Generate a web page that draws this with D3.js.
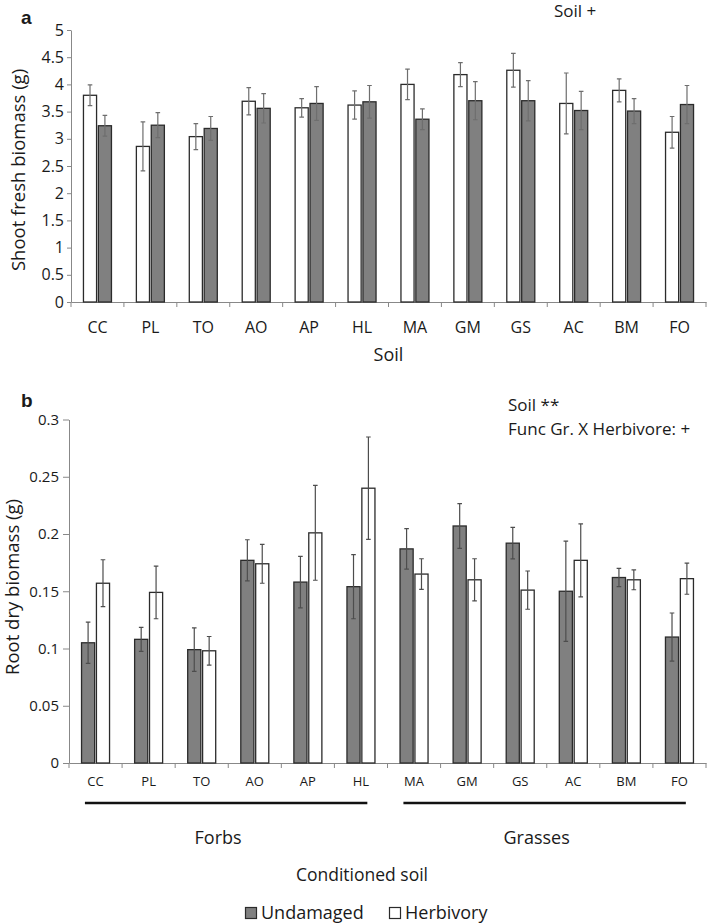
<!DOCTYPE html>
<html>
<head>
<meta charset="utf-8">
<script src="https://cdn.jsdelivr.net/npm/d3@7"></script>
<style>
  body { margin: 0; background: #fff; }
  text { font-family: "Open Sans", "Noto Sans", sans-serif; fill: #1a1a1a; }
</style>
</head>
<body>
<div id="chart"></div>
<script>
// Categories (conditioned soils)
const soils = ["CC", "PL", "TO", "AO", "AP", "HL", "MA", "GM", "GS", "AC", "BM", "FO"];

// Panel a: shoot fresh biomass (g)
const shootHerbivory = [3.80, 2.86, 3.04, 3.69, 3.57, 3.62, 4.00, 4.18, 4.26, 3.65, 3.89, 3.12];
const shootHerbivoryErr = [0.19, 0.45, 0.24, 0.25, 0.17, 0.26, 0.28, 0.22, 0.31, 0.56, 0.21, 0.29];
const shootUndamaged = [3.24, 3.25, 3.19, 3.56, 3.65, 3.68, 3.36, 3.70, 3.70, 3.52, 3.51, 3.63];
const shootUndamagedErr = [0.19, 0.23, 0.22, 0.27, 0.31, 0.30, 0.19, 0.35, 0.37, 0.35, 0.23, 0.35];
const shootTicks = [0, 0.5, 1, 1.5, 2, 2.5, 3, 3.5, 4, 4.5, 5];

// Panel b: root dry biomass (g)
const rootUndamaged = [0.105, 0.108, 0.099, 0.177, 0.158, 0.154, 0.187, 0.207, 0.192, 0.150, 0.162, 0.110];
const rootUndamagedErr = [0.018, 0.0105, 0.019, 0.018, 0.0225, 0.028, 0.0177, 0.0195, 0.0137, 0.0437, 0.008, 0.021];
const rootHerbivory = [0.157, 0.149, 0.098, 0.174, 0.201, 0.240, 0.165, 0.160, 0.151, 0.177, 0.160, 0.161];
const rootHerbivoryErr = [0.0205, 0.023, 0.0125, 0.017, 0.0414, 0.0447, 0.0134, 0.0184, 0.0167, 0.0319, 0.0087, 0.0136];
const rootTicks = [0, 0.05, 0.1, 0.15, 0.2, 0.25, 0.3];

// Functional groups
const groups = [
  {name: "Forbs", members: ["CC", "PL", "TO", "AO", "AP", "HL"]},
  {name: "Grasses", members: ["MA", "GM", "GS", "AC", "BM", "FO"]}
];

const fillColor = {Undamaged: "#808080", Herbivory: "#ffffff"};

const svg = d3.select("#chart")
  .append("svg")
    .attr("width", 708)
    .attr("height", 924);

function panel(opts) {
  const x = d3.scaleBand()
    .domain(soils)
    .range([opts.left, opts.right])
    .padding(0);
  const bw = x.bandwidth();

  const x1 = d3.scaleBand()
    .domain(opts.series.map(s => s.name))
    .range([bw / 2 - 14, bw / 2 + 14])
    .paddingInner(0.12);

  const y = d3.scaleLinear()
    .domain([0, opts.max])
    .range([opts.bottom, opts.top]);

  const g = svg.append("g");

  // Y axis
  const yAxis = g.append("g")
    .attr("transform", `translate(${opts.left},0)`)
    .call(d3.axisLeft(y).tickValues(opts.ticks).tickSize(opts.tickLen)
      .tickSizeOuter(0).tickPadding(opts.tickPad).tickFormat(d3.format("~g")));
  yAxis.selectAll("path, line").attr("stroke", "#888");
  yAxis.selectAll("text")
    .style("font-size", opts.tickFont + "px")
    .style("font-family", "'Open Sans', sans-serif")
    .attr("fill", "#1a1a1a");

  // X axis (labels only, ticks at category boundaries)
  const xAxis = g.append("g")
    .attr("transform", `translate(0,${opts.bottom})`)
    .call(d3.axisBottom(x).tickSize(0).tickPadding(opts.catPad));
  xAxis.select(".domain").attr("stroke", "#888");
  xAxis.selectAll("text")
    .style("font-size", opts.catFont + "px")
    .style("font-family", "'Open Sans', sans-serif")
    .attr("fill", "#1a1a1a");

  const bounds = soils.map(s => x(s)).concat([x.range()[1]]);
  g.selectAll(".btick")
    .data(bounds)
    .enter()
    .append("line")
      .attr("x1", d => d).attr("x2", d => d)
      .attr("y1", opts.bottom).attr("y2", opts.bottom + 5)
      .attr("stroke", "#888");

  // Bars and error bars
  opts.series.forEach(s => {
    const rows = soils.map((c, i) => ({cat: c, v: s.values[i], e: s.err[i]}));
    const sg = g.append("g");
    sg.selectAll("rect")
      .data(rows)
      .enter()
      .append("rect")
        .attr("x", d => x(d.cat) + x1(s.name))
        .attr("y", d => y(d.v))
        .attr("width", x1.bandwidth())
        .attr("height", d => opts.bottom - y(d.v))
        .attr("fill", fillColor[s.name])
        .attr("stroke", "#2b2b2b")
        .attr("stroke-width", 1.3);

    const cx = d => x(d.cat) + x1(s.name) + x1.bandwidth() / 2;
    sg.selectAll(".err")
      .data(rows)
      .enter()
      .append("path")
        .attr("fill", "none")
        .attr("stroke", opts.errColor)
        .attr("stroke-width", 1.2)
        .attr("d", d => {
          const c = cx(d), hi = y(d.v + d.e), lo = y(d.v - d.e), w = 2.3;
          return `M${c},${hi}V${lo}M${c - w},${hi}H${c + w}M${c - w},${lo}H${c + w}`;
        });
  });

  return {x, y, bw};
}

// ---- Panel a ----
const pa = panel({
  left: 71, right: 706, top: 30, bottom: 302, max: 5,
  ticks: shootTicks, tickLen: 4, tickPad: 3, tickFont: 16,
  catFont: 16, catPad: 20, errColor: "#6e6e6e",
  series: [
    {name: "Herbivory", values: shootHerbivory, err: shootHerbivoryErr},
    {name: "Undamaged", values: shootUndamaged, err: shootUndamagedErr}
  ]
});

svg.append("text")
  .attr("x", 21).attr("y", 24)
  .style("font-family", "'Liberation Sans', Arial, sans-serif")
  .style("font-weight", "bold")
  .style("font-size", "19px")
  .text("a");

svg.append("text")
  .attr("x", 554).attr("y", 17)
  .style("font-size", "17px")
  .text("Soil +");

svg.append("text")
  .attr("text-anchor", "middle")
  .attr("x", (71 + 706) / 2).attr("y", 361)
  .style("font-size", "18px")
  .text("Soil");

svg.append("text")
  .attr("text-anchor", "middle")
  .attr("transform", "translate(25,170) rotate(-90)")
  .style("font-size", "18.5px")
  .text("Shoot fresh biomass (g)");

// ---- Panel b ----
const pb = panel({
  left: 69, right: 706, top: 419.5, bottom: 763, max: 0.3,
  ticks: rootTicks, tickLen: 6, tickPad: 4, tickFont: 15,
  catFont: 13, catPad: 14, errColor: "#4d4d4d",
  series: [
    {name: "Undamaged", values: rootUndamaged, err: rootUndamagedErr},
    {name: "Herbivory", values: rootHerbivory, err: rootHerbivoryErr}
  ]
});

svg.append("text")
  .attr("x", 21).attr("y", 407)
  .style("font-family", "'Liberation Sans', Arial, sans-serif")
  .style("font-weight", "bold")
  .style("font-size", "19px")
  .text("b");

svg.append("text")
  .attr("x", 508).attr("y", 411)
  .style("font-size", "17px")
  .text("Soil **");

svg.append("text")
  .attr("x", 508).attr("y", 435)
  .style("font-size", "17px")
  .text("Func Gr. X Herbivore: +");

svg.append("text")
  .attr("text-anchor", "middle")
  .attr("transform", "translate(19,587) rotate(-90)")
  .style("font-size", "18.5px")
  .text("Root dry biomass (g)");

// Functional group bars and labels
groups.forEach(gr => {
  const first = gr.members[0], last = gr.members[gr.members.length - 1];
  const x0 = pb.x(first) + pb.bw * 0.3;
  const x1 = pb.x(last) + pb.bw * 0.62;
  svg.append("line")
    .attr("x1", x0).attr("x2", x1)
    .attr("y1", 803).attr("y2", 803)
    .attr("stroke", "#111")
    .attr("stroke-width", 2.5);
  svg.append("text")
    .attr("text-anchor", "middle")
    .attr("x", (x0 + x1) / 2 - 8).attr("y", 844)
    .style("font-size", "18px")
    .text(gr.name);
});

svg.append("text")
  .attr("text-anchor", "middle")
  .attr("x", 362).attr("y", 881)
  .style("font-size", "17.5px")
  .text("Conditioned soil");

// Legend
const legendItems = ["Undamaged", "Herbivory"];
const legend = svg.append("g")
  .attr("transform", "translate(245,907)");
legend.selectAll("g")
  .data(legendItems)
  .enter()
  .append("g")
    .attr("transform", (d, i) => `translate(${i * 144},0)`)
    .each(function(d) {
      const it = d3.select(this);
      it.append("rect")
        .attr("x", 0.5).attr("y", 0.5)
        .attr("width", 11).attr("height", 11)
        .attr("fill", fillColor[d])
        .attr("stroke", "#2b2b2b")
        .attr("stroke-width", 1.2);
      it.append("text")
        .attr("x", 16).attr("y", 12)
        .style("font-size", "18px")
        .text(d);
    });
</script>
</body>
</html>
